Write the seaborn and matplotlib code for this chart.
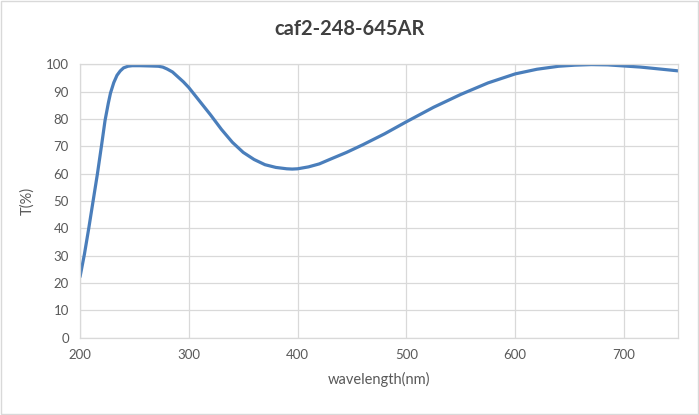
import matplotlib.pyplot as plt
import seaborn as sns
import numpy as np
import pandas as pd

# transmission curve
wavelength = [200, 204, 208, 212, 216, 220, 223, 226, 228, 231, 234, 237, 240, 244, 248,
              255, 265, 272, 276, 280, 285, 290, 295, 300, 310, 320, 330, 340, 350, 360, 370,
              380, 390, 395, 400, 410, 420, 430, 445, 460, 480, 500, 525, 550, 575, 600, 620,
              640, 655, 670, 685, 700, 715, 730, 750]
transmission = [22.3, 30.5, 40.0, 50.0, 60.0, 71.0, 79.5, 85.8, 89.5, 93.3, 96.0, 97.6, 98.7, 99.3, 99.5,
                99.5, 99.4, 99.3, 99.0, 98.3, 97.2, 95.4, 93.6, 91.5, 86.5, 81.5, 76.2, 71.5, 67.8, 65.2, 63.3,
                62.3, 61.8, 61.7, 61.8, 62.5, 63.6, 65.3, 67.8, 70.6, 74.6, 79.0, 84.3, 89.0, 93.2, 96.5, 98.2,
                99.3, 99.7, 99.9, 99.8, 99.4, 99.0, 98.4, 97.6]

df = pd.DataFrame({'wavelength': wavelength, 'T': transmission})

sns.set_style('white')
plt.rcParams['font.family'] = ['Lato', 'DejaVu Sans']

fig = plt.figure(figsize=(6.99, 4.15), dpi=100)
ax = fig.add_axes([0.1145, 0.186, 0.856, 0.659])

sns.lineplot(data=df, x='wavelength', y='T', ax=ax, color='#4a7ebb', linewidth=2.3)

ax.set_xlim(200, 750)
ax.set_ylim(0, 100)
ax.set_xticks(np.arange(200, 701, 100))
ax.set_yticks(np.arange(0, 101, 10))
ax.grid(True, color='#d9d9d9', linewidth=0.9)
for s in ax.spines.values():
    s.set_color('#d9d9d9')
    s.set_linewidth(0.9)
ax.tick_params(axis='both', length=0, colors='#595959', labelsize=9.5, pad=8)

ax.set_xlabel('wavelength(nm)', fontsize=10.5, color='#595959', labelpad=8)
ax.set_ylabel('T(%)', fontsize=10.5, color='#595959', labelpad=8)
fig.suptitle('caf2-248-645AR', x=0.5, y=0.955, fontsize=14.5, fontweight='bold', color='#404040')

# outer chart border
fig.patches.append(plt.Rectangle((0.002, 0.002), 0.996, 0.995, transform=fig.transFigure,
                                 fill=False, edgecolor='#d9d9d9', linewidth=1))

fig.savefig('out.png', dpi=100)
